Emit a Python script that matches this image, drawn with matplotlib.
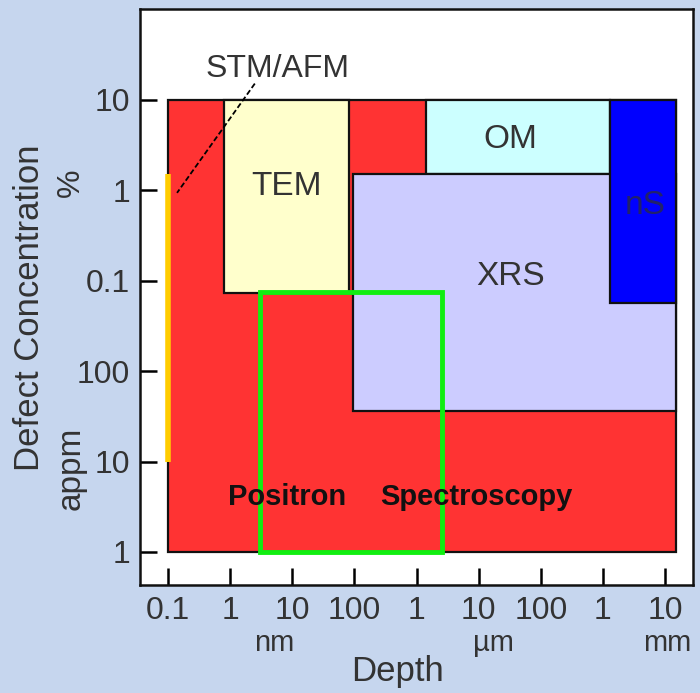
import matplotlib.pyplot as plt
from matplotlib.patches import Rectangle

plt.rcParams['font.family'] = ['Liberation Sans', 'DejaVu Sans']

# depth in nm, concentration in ppm
methods = ['Positron', 'TEM', 'OM', 'XRS', 'nS']
depth_lo = [0.1, 0.8, 1400, 95, 1.3e6]
depth_hi = [1.5e7, 81, 1.3e6, 1.5e7, 1.5e7]
conc_lo = [1, 720, 15000, 36, 560]
conc_hi = [1e5, 1e5, 1e5, 15000, 1e5]
colors = ['#ff3333', '#ffffcc', '#ccffff', '#ccccff', '#0000ff']

# positron beam range (green box)
pos_depth = [3, 2600]
pos_conc = [1, 740]

# STM/AFM (yellow line)
stm_depth = 0.1
stm_conc = [10, 15000]

xticks = [0.1, 1, 10, 100, 1e3, 1e4, 1e5, 1e6, 1e7]
xticklabels = ['0.1', '1', '10', '100', '1', '10', '100', '1', '10']
yticks = [1, 10, 100, 1e3, 1e4, 1e5]
yticklabels = ['1', '10', '100', '0.1', '1', '10']

bg = '#c6d6ee'
dark = '#333333'
fig = plt.figure(figsize=(7, 6.93), dpi=100, facecolor=bg)
ax = fig.add_axes([0.2, 0.1558, 0.79, 0.8312])
ax.set_xscale('log')
ax.set_yscale('log')
ax.set_xlim(10**-1.45, 10**7.45)
ax.set_ylim(10**-0.365, 10**6.0)

for i in range(len(methods)):
    ax.add_patch(Rectangle((depth_lo[i], conc_lo[i]),
                           depth_hi[i] - depth_lo[i], conc_hi[i] - conc_lo[i],
                           facecolor=colors[i], edgecolor='#111111', lw=1.6, zorder=2))

ax.add_patch(Rectangle((pos_depth[0], pos_conc[0]),
                       pos_depth[1] - pos_depth[0], pos_conc[1] - pos_conc[0],
                       facecolor='none', edgecolor='#11ee11', lw=3.5, zorder=3))
ax.plot([stm_depth, stm_depth], stm_conc, color='#ffcc00', lw=4, zorder=4,
        solid_capstyle='butt')

txt = dict(fontsize=24, color=dark, ha='center', va='center', zorder=5)
ax.text(8.2, 1.08e4, 'TEM', **txt)
ax.text(3.2e4, 3.6e4, 'OM', **txt)
ax.text(3.3e4, 1120, 'XRS', **txt)
ax.text(4.8e6, 6800, 'nS', **dict(txt, color='#22226a'))
ax.text(8.2, 4.1, 'Positron', **dict(txt, color='#111111', fontweight='bold', fontsize=21))
ax.text(9100, 4.1, 'Spectroscopy', **dict(txt, color='#111111', fontweight='bold', fontsize=21))

# STM/AFM label with dashed leader
ax.text(5.7, 2.2e5, 'STM/AFM', fontsize=23, color=dark, ha='center', va='center')
ax.plot([2.5, 0.14], [1.5e5, 9300], color='black', lw=1.3, ls=(0, (3, 1.5)), zorder=5)

ax.set_xticks(xticks)
ax.set_xticklabels(xticklabels)
ax.set_yticks(yticks)
ax.set_yticklabels(yticklabels)
ax.minorticks_off()
ax.tick_params(direction='in', length=12, width=1.8, labelsize=23,
               labelcolor=dark, top=False, right=False)
ax.tick_params(axis='x', pad=8)
ax.tick_params(axis='y', pad=7)
for s in ax.spines.values():
    s.set_linewidth(1.8)
    s.set_color('#111111')

unit = dict(fontsize=21, color=dark, ha='center', va='center')
fig.text(274 / 700, 1 - 643 / 693, 'nm', **unit)
fig.text(493 / 700, 1 - 643 / 693, 'µm', **unit)
fig.text(667 / 700, 1 - 643 / 693, 'mm', **unit)
fig.text(397 / 700, 1 - 672 / 693, 'Depth', fontsize=25, color=dark, ha='center', va='center')
fig.text(30 / 700, 1 - 308 / 693, 'Defect Concentration', fontsize=25, color=dark,
         ha='center', va='center', rotation=90)
fig.text(71 / 700, 1 - 183 / 693, '%', fontsize=23, color=dark, ha='center', va='center', rotation=90)
fig.text(71 / 700, 1 - 468 / 693, 'appm', fontsize=24, color=dark, ha='center', va='center', rotation=90)

fig.savefig('out.png', dpi=100, facecolor=bg)
